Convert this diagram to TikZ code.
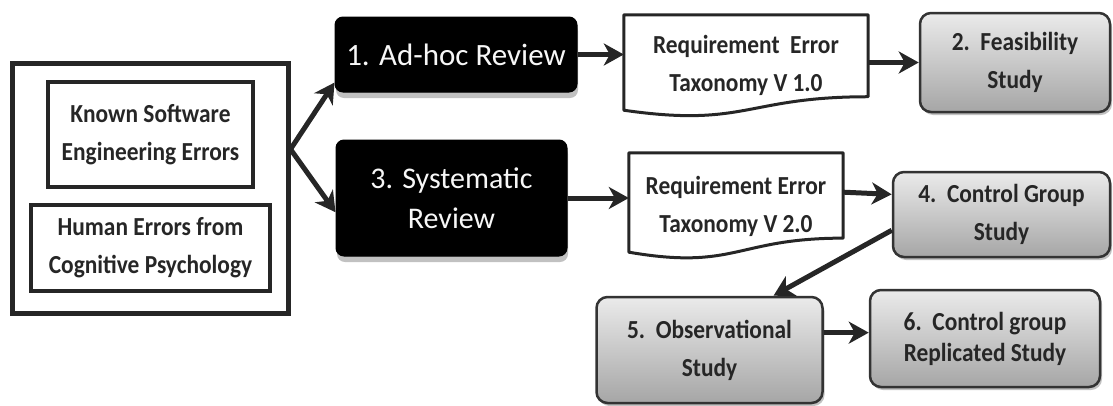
\documentclass[tikz,border=0pt]{standalone}
\usepackage{fontspec}
\setmainfont{Carlito}
\newfontfamily\narrowcal{Carlito}[FakeStretch=0.9]
\usetikzlibrary{arrows.meta,calc,shadows}
\begin{document}
\begin{tikzpicture}[x=1pt,y=-1pt,
  arr/.style={draw=black!85, line width=5pt, -{Stealth[length=20pt,width=22pt,inset=6pt]}},
  bt/.style={font=\narrowcal\bfseries\fontsize{26}{38}\selectfont, text=black!85, align=center, inner sep=0pt},
  frame/.style={draw=black!85, line width=5pt, fill=white, inner sep=0pt},
  plainbox/.style={bt, draw=black!85, line width=3.5pt, fill=white},
  darkbox/.style={draw=black, line width=1pt, fill=black, rounded corners=8pt, text=black!3, align=center, inner sep=0pt,
    drop shadow={shadow xshift=1pt, shadow yshift=-6pt, fill=black!30, opacity=0.8}},
  greybox/.style={bt, draw=black!80, line width=2.5pt, rounded corners=11pt, top color=black!8, bottom color=black!35,
    drop shadow={shadow xshift=2pt, shadow yshift=-3pt, fill=black!40, opacity=0.6}},
  docbox/.style={bt},
  docline/.style={draw=black!85, line width=3pt, line join=round}
]
\useasboundingbox (0,0) rectangle (1113,405);

% left frame with its two boxes
\node[frame, minimum width=276pt, minimum height=250pt] (outer) at (150,188) {};
\node[plainbox, minimum width=205pt, minimum height=105pt] (known) at (150.5,134.5) {Known Software\\Engineering Errors};
\node[plainbox, minimum width=239pt, minimum height=86pt] (human) at (150.5,248) {Human Errors from\\Cognitive Psychology};

% black review boxes
\node[darkbox, minimum width=242pt, minimum height=75pt, font=\fontsize{31}{40}\selectfont] (adhoc) at (456,54.5) {1. Ad-hoc Review};
\node[darkbox, minimum width=231pt, minimum height=116pt, font=\fontsize{30}{40}\selectfont] (syst) at (451.5,198) {3. Systematic\\Review};

% documents
\node[docbox, minimum width=244pt, minimum height=101.7pt] (doc1) at (746,65.9) {Requirement\ \ Error\\Taxonomy V 1.0};
\node[docbox, minimum width=214pt, minimum height=106pt] (doc2) at (736,206) {Requirement Error\\Taxonomy V 2.0};
\foreach \d in {doc1,doc2}{
  \draw[docline] (\d.north west) -- (\d.north east)
    -- ($(\d.north east)!0.802!(\d.south east)$)
    .. controls ($(\d.north)!0.802!(\d.south)$) and ($(\d.north)!1.107!(\d.south)$) ..
    ($(\d.north west)!0.934!(\d.south west)$) -- cycle;
}

% grey study boxes
\node[greybox, minimum width=190pt, minimum height=99pt] (feas) at (1015,62.5) {2.\ \ Feasibility\\Study};
\node[greybox, minimum width=217pt, minimum height=85pt] (ctrl) at (1001.5,214.5) {4.\ \ Control Group\\Study};
\node[greybox, minimum width=226pt, minimum height=106pt] (obs) at (709.5,350) {5.\ \ Observational\\Study};
\node[greybox, minimum width=230pt, minimum height=97pt, font=\narrowcal\bfseries\fontsize{26}{31}\selectfont] (repl) at (985,338.5) {6.\ \ Control group\\Replicated Study};

% connectors
\coordinate (fork) at ($(outer.north east)!0.348!(outer.south east)$);
\draw[arr] (fork) -- (adhoc.193);
\draw[arr] (fork) -- (syst.187);
\draw[arr] (adhoc.east) -- (doc1.west |- adhoc.east);
\draw[arr] (doc1.east |- feas.west) -- (feas.west);
\draw[arr] (syst.east) -- (doc2.west |- syst.east);
\coordinate (d2out) at ($(doc2.north east)!0.37!(doc2.south east)$);
\coordinate (c4in) at ($(ctrl.north west)!0.27!(ctrl.south west)$);
\draw[arr] (d2out) -- (c4in);
\coordinate (c4out) at ($(ctrl.north west)!0.68!(ctrl.south west)$);
\coordinate (o5in) at ($(obs.north west)!0.78!(obs.north east)$);
\draw[arr] (c4out) -- (o5in);
\coordinate (o5out) at ($(obs.north east)!0.34!(obs.south east)$);
\draw[arr] (o5out) -- (repl.west |- o5out);
\end{tikzpicture}
\end{document}
